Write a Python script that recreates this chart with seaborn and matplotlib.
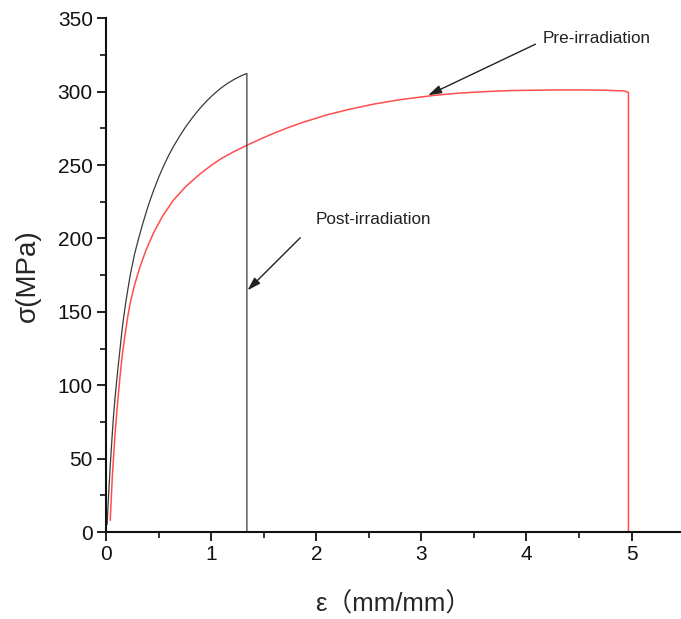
import matplotlib
matplotlib.use("Agg")
import matplotlib.pyplot as plt
from matplotlib.ticker import MultipleLocator
import seaborn as sns
import pandas as pd

# Post-irradiation curve (strain mm/mm, stress MPa)
post_strain = [0.01, 0.025, 0.04, 0.055, 0.07, 0.085, 0.10, 0.12, 0.135, 0.15, 0.165, 0.185, 0.20,
               0.23, 0.27, 0.31, 0.345, 0.38, 0.415, 0.45, 0.50, 0.54, 0.59, 0.64, 0.70, 0.76,
               0.83, 0.895, 0.95, 1.0, 1.05, 1.09, 1.15, 1.2, 1.25, 1.3, 1.34, 1.34]
post_stress = [5, 26, 45, 62, 78, 91, 102, 116, 126, 136, 145, 155, 162,
               175, 189, 200, 209, 217.4, 225.2, 232.3, 241.5, 248.2, 255.8, 262.5, 269.7, 276.3,
               283.1, 288.8, 293.1, 296.7, 299.9, 302.3, 305.4, 307.6, 309.6, 311.3, 312.4, 0]

# Pre-irradiation curve
pre_strain = [0.04, 0.06, 0.086, 0.11, 0.133, 0.155, 0.18, 0.205, 0.23, 0.27, 0.32, 0.38, 0.45,
              0.54, 0.64, 0.76, 0.895, 1.0, 1.1, 1.22, 1.34, 1.47, 1.6, 1.72, 1.85, 2.1, 2.32,
              2.55, 2.8, 3.12, 3.35, 3.59, 3.85, 4.07, 4.3, 4.55, 4.75, 4.93, 4.97, 4.97]
pre_stress = [8, 38, 67, 88, 106, 121, 134, 146, 156, 168, 180, 192, 203.5,
              215.5, 226, 235.5, 244, 249.8, 254.6, 259.3, 263.5, 267.8, 271.8, 275.2, 278.6, 284.2, 288.1,
              291.6, 294.6, 297.5, 299, 300, 300.8, 301, 301.2, 301.2, 301, 300.5, 299.5, 0]

labels = ["Post-irradiation", "Pre-irradiation"]

df_post = pd.DataFrame({"strain": post_strain, "stress": post_stress})
df_pre = pd.DataFrame({"strain": pre_strain, "stress": pre_stress})

sns.set_style("ticks")
plt.rcParams["font.family"] = ["Liberation Sans", "Noto Sans CJK SC", "DejaVu Sans"]

fig = plt.figure(figsize=(6.81, 6.19), dpi=100)
ax = fig.add_axes([0.1557, 0.1405, 0.8443, 0.8299])

sns.lineplot(data=df_pre, x="strain", y="stress", sort=False, estimator=None,
             color="#ff4d4d", lw=1.1, ax=ax)
sns.lineplot(data=df_post, x="strain", y="stress", sort=False, estimator=None,
             color="#3a3a3a", lw=0.9, ax=ax)

ax.set_xlim(0, 5.47)
ax.set_ylim(0, 350)
ax.xaxis.set_major_locator(MultipleLocator(1))
ax.xaxis.set_minor_locator(MultipleLocator(0.5))
ax.yaxis.set_major_locator(MultipleLocator(50))
ax.yaxis.set_minor_locator(MultipleLocator(25))

for side in ["top", "right"]:
    ax.spines[side].set_visible(False)
for side in ["left", "bottom"]:
    ax.spines[side].set_linewidth(1.5)
    ax.spines[side].set_color("#111111")

ax.tick_params(which="major", direction="out", length=6.5, width=1.3, labelsize=15,
               colors="#111111", pad=3)
ax.tick_params(which="minor", direction="out", length=4, width=1.2, colors="#111111")

ax.set_xlabel("ε（mm/mm）", fontsize=18.5, labelpad=20,
              family=["Liberation Sans", "Noto Sans CJK SC"])
ax.set_ylabel("σ(MPa)", fontsize=20, labelpad=12)

# annotations
ax.text(4.67, 336.5, labels[1], fontsize=12.3, ha="center", va="center", color="#222222")
ax.annotate("", xy=(3.064, 297.6), xytext=(4.086, 332.4),
            arrowprops=dict(arrowstyle="-|>,head_length=0.8,head_width=0.25",
                            color="#222222", lw=1.0, shrinkA=0, shrinkB=0))
ax.text(2.543, 212.6, labels[0], fontsize=12.3, ha="center", va="center", color="#222222")
ax.annotate("", xy=(1.346, 164.7), xytext=(1.848, 200.5),
            arrowprops=dict(arrowstyle="-|>,head_length=0.8,head_width=0.25",
                            color="#222222", lw=1.0, shrinkA=0, shrinkB=0))

fig.savefig("out.png", dpi=100)
